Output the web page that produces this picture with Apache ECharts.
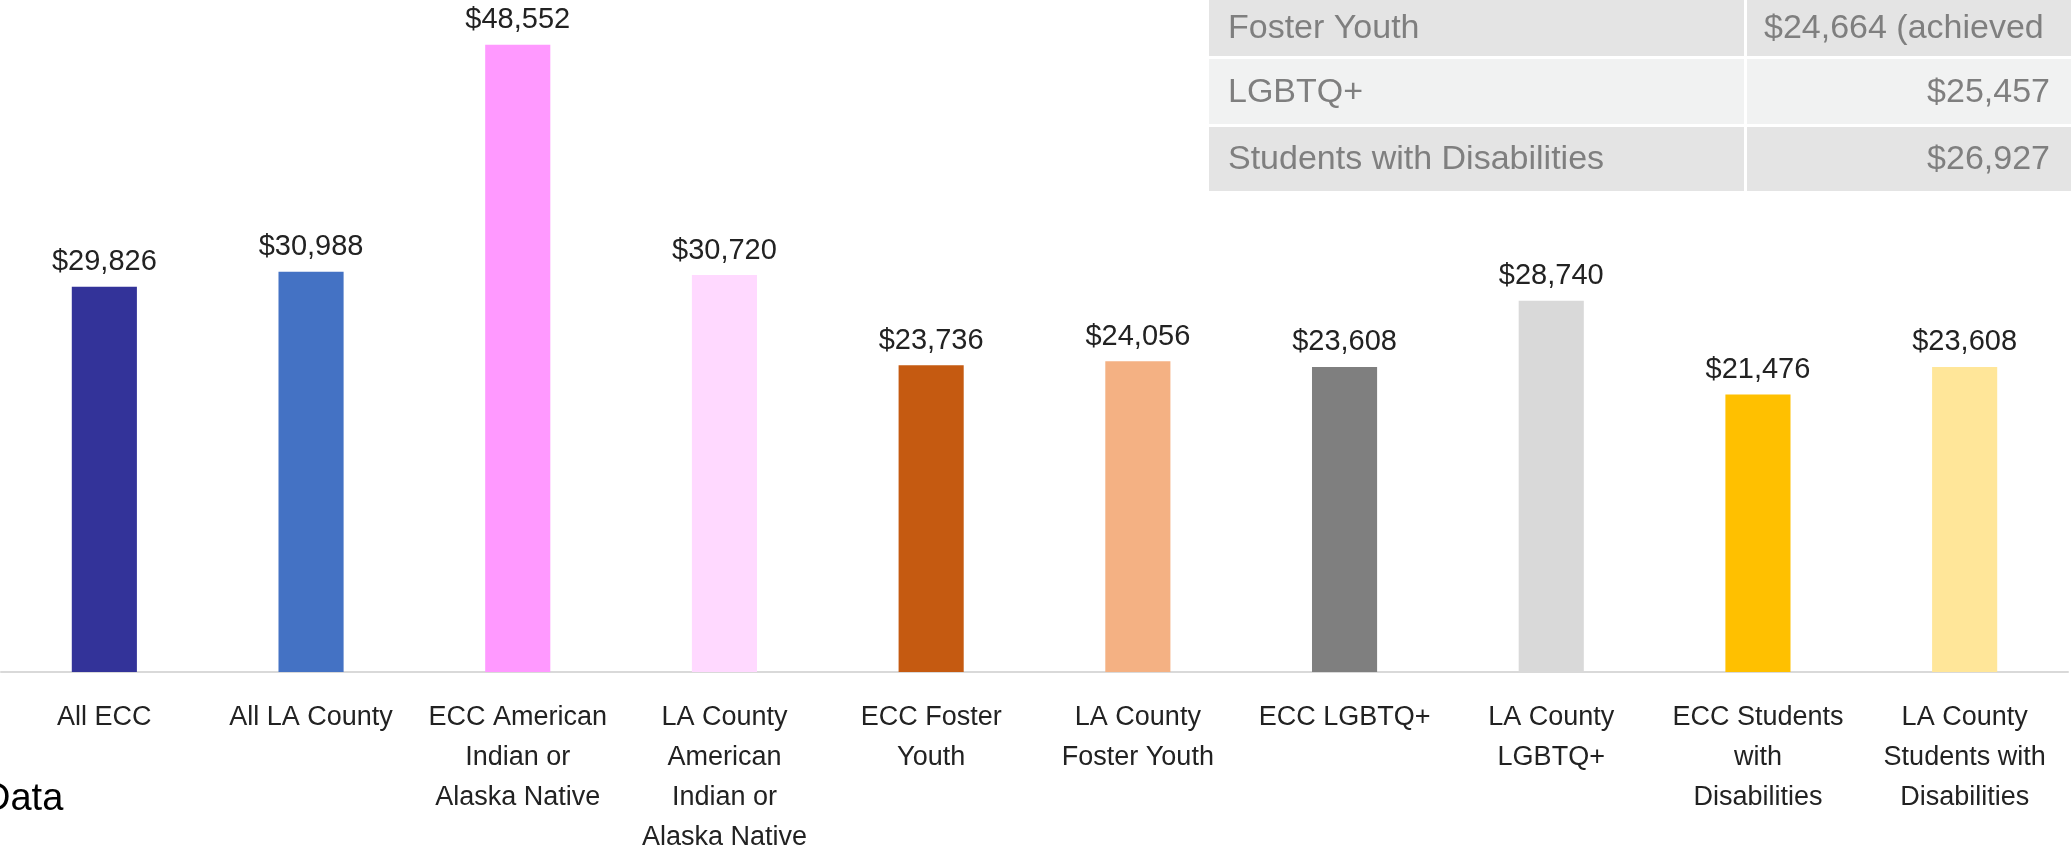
<!DOCTYPE html>
<html>
<head>
<meta charset="utf-8">
<style>
  html, body { margin: 0; padding: 0; background: #fff; }
  #chart { width: 2071px; height: 849px; }
</style>
<script src="https://cdn.jsdelivr.net/npm/echarts@6/dist/echarts.min.js"></script>
</head>
<body>
<div id="chart"></div>
<script>
const categories = [
  'All ECC',
  'All LA County',
  'ECC American\nIndian or\nAlaska Native',
  'LA County\nAmerican\nIndian or\nAlaska Native',
  'ECC Foster\nYouth',
  'LA County\nFoster Youth',
  'ECC LGBTQ+',
  'LA County\nLGBTQ+',
  'ECC Students\nwith\nDisabilities',
  'LA County\nStudents with\nDisabilities'
];
const values = [29826, 30988, 48552, 30720, 23736, 24056, 23608, 28740, 21476, 23608];
const barColors = [
  '#333399', '#4472c4', '#ff99ff', '#ffd9ff', '#c55a11',
  '#f4b183', '#7f7f7f', '#d9d9d9', '#ffc000', '#ffe699'
];
// small table shown top right
const tableNames = ['Foster Youth', 'LGBTQ+', 'Students with Disabilities'];
const tableValues = ['$24,664 (achieved', '$25,457', '$26,927'];

const FONT = '"Liberation Sans", Arial, sans-serif';

const chart = echarts.init(document.getElementById('chart'));

function money(v) {
  return '$' + v.toLocaleString('en-US');
}

// table graphic
const rowTops = [0, 59, 127];
const rowHeights = [56, 65, 64];
const rowFills = ['#e4e4e4', '#f1f2f2', '#e4e4e4'];
const tableGraphic = [];
rowTops.forEach((top, i) => {
  tableGraphic.push({
    type: 'rect',
    shape: { x: 1209, y: top, width: 535, height: rowHeights[i] },
    style: { fill: rowFills[i] }
  });
  tableGraphic.push({
    type: 'rect',
    shape: { x: 1747, y: top, width: 324, height: rowHeights[i] },
    style: { fill: rowFills[i] }
  });
  tableGraphic.push({
    type: 'text',
    style: {
      x: 1228, y: top + rowHeights[i] / 2 + 1,
      text: tableNames[i],
      fill: '#7f7f7f',
      font: '34px ' + FONT,
      verticalAlign: 'middle'
    }
  });
  const isFirst = i === 0;
  tableGraphic.push({
    type: 'text',
    style: {
      x: isFirst ? 1764 : 2050, y: top + rowHeights[i] / 2 + 1,
      text: tableValues[i],
      fill: '#7f7f7f',
      font: '34px ' + FONT,
      align: isFirst ? 'left' : 'right',
      verticalAlign: 'middle'
    }
  });
});
tableGraphic.push({
  type: 'text',
  style: {
    x: -17, y: 800,
    text: 'Data',
    fill: '#000',
    font: '38px ' + FONT,
    verticalAlign: 'middle'
  }
});

chart.setOption({
  backgroundColor: '#fff',
  animation: false,
  grid: {
    left: 1,
    right: 3,
    top: 26,
    bottom: 177,
    outerBoundsMode: 'none'
  },
  xAxis: {
    type: 'category',
    data: categories,
    axisLine: {
      lineStyle: { color: '#d9d9d9', width: 2 }
    },
    axisTick: { show: false },
    axisLabel: {
      interval: 0,
      margin: 26,
      color: '#222',
      fontSize: 27,
      lineHeight: 40,
      fontFamily: FONT,
      align: 'center'
    }
  },
  yAxis: {
    type: 'value',
    min: 0,
    max: 50000,
    show: false,
    splitLine: { show: false }
  },
  series: [
    {
      type: 'bar',
      data: values.map((v, i) => ({
        value: v,
        itemStyle: { color: barColors[i] }
      })),
      barWidth: '31.5%',
      label: {
        show: true,
        position: 'top',
        distance: 10,
        color: '#222',
        fontSize: 29,
        fontFamily: FONT,
        formatter: p => money(p.value)
      }
    }
  ],
  graphic: tableGraphic
});
</script>
</body>
</html>
